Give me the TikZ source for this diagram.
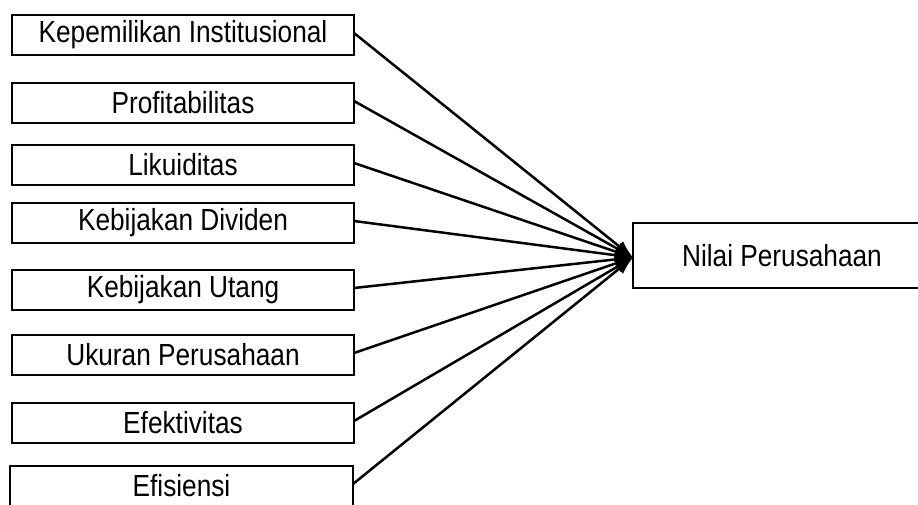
\documentclass[tikz,border=0pt]{standalone}
\usepackage{fontspec}
\setmainfont{Liberation Sans}[FakeStretch=0.86]
\usetikzlibrary{positioning,arrows.meta}

\begin{document}
\begin{tikzpicture}[x=1pt, y=-1pt,
    var/.style={draw=black, line width=1.8pt, fill=white, minimum width=342pt,
      minimum height=40pt, inner sep=0pt, outer sep=0pt, anchor=north west,
      font=\fontsize{30.5}{36}\selectfont},
    target/.style={var, minimum width=298pt, minimum height=65pt},
    flow/.style={-{Latex[length=18pt,width=13pt]}, line width=2.5pt, draw=black},
  ]
  \useasboundingbox (0,0) rectangle (918,504);

  % ------------------------------------------------------------ variables
  \node[var] (kepemilikan) at (12,15) {Kepemilikan Institusional};
  \node[var, below=28pt of kepemilikan.south west, anchor=north west] (profit) {Profitabilitas};
  \node[var, below=22pt of profit.south west, anchor=north west] (likuid) {Likuiditas};
  \node[var, below=18pt of likuid.south west, anchor=north west] (dividen) {Kebijakan Dividen};
  \node[var, below=27pt of dividen.south west, anchor=north west] (utang) {Kebijakan Utang};
  \node[var, below=25pt of utang.south west, anchor=north west] (ukuran) {Ukuran Perusahaan};
  \node[var, below=28pt of ukuran.south west, anchor=north west] (efektif) {Efektivitas};
  \node[var, minimum width=343pt, below=23pt of efektif.south west,
        anchor=north west, xshift=-2pt] (efisien) {Efisiensi};
  \draw[line width=1.8pt] (efisien.south west) -- ++(0,10);
  \draw[line width=1.8pt] (efisien.south east) -- ++(0,10);

  % ------------------------------------------------------------ dependent
  \node[target] (nilai) at (633,223) {Nilai Perusahaan};

  % ------------------------------------------------------------ arrows
  \foreach \src in {kepemilikan,profit,likuid,dividen,utang,ukuran,efektif,efisien}
    \draw[flow] ([yshift=2pt]\src.east) -- ([yshift=-2pt]nilai.west);
\end{tikzpicture}
\end{document}
